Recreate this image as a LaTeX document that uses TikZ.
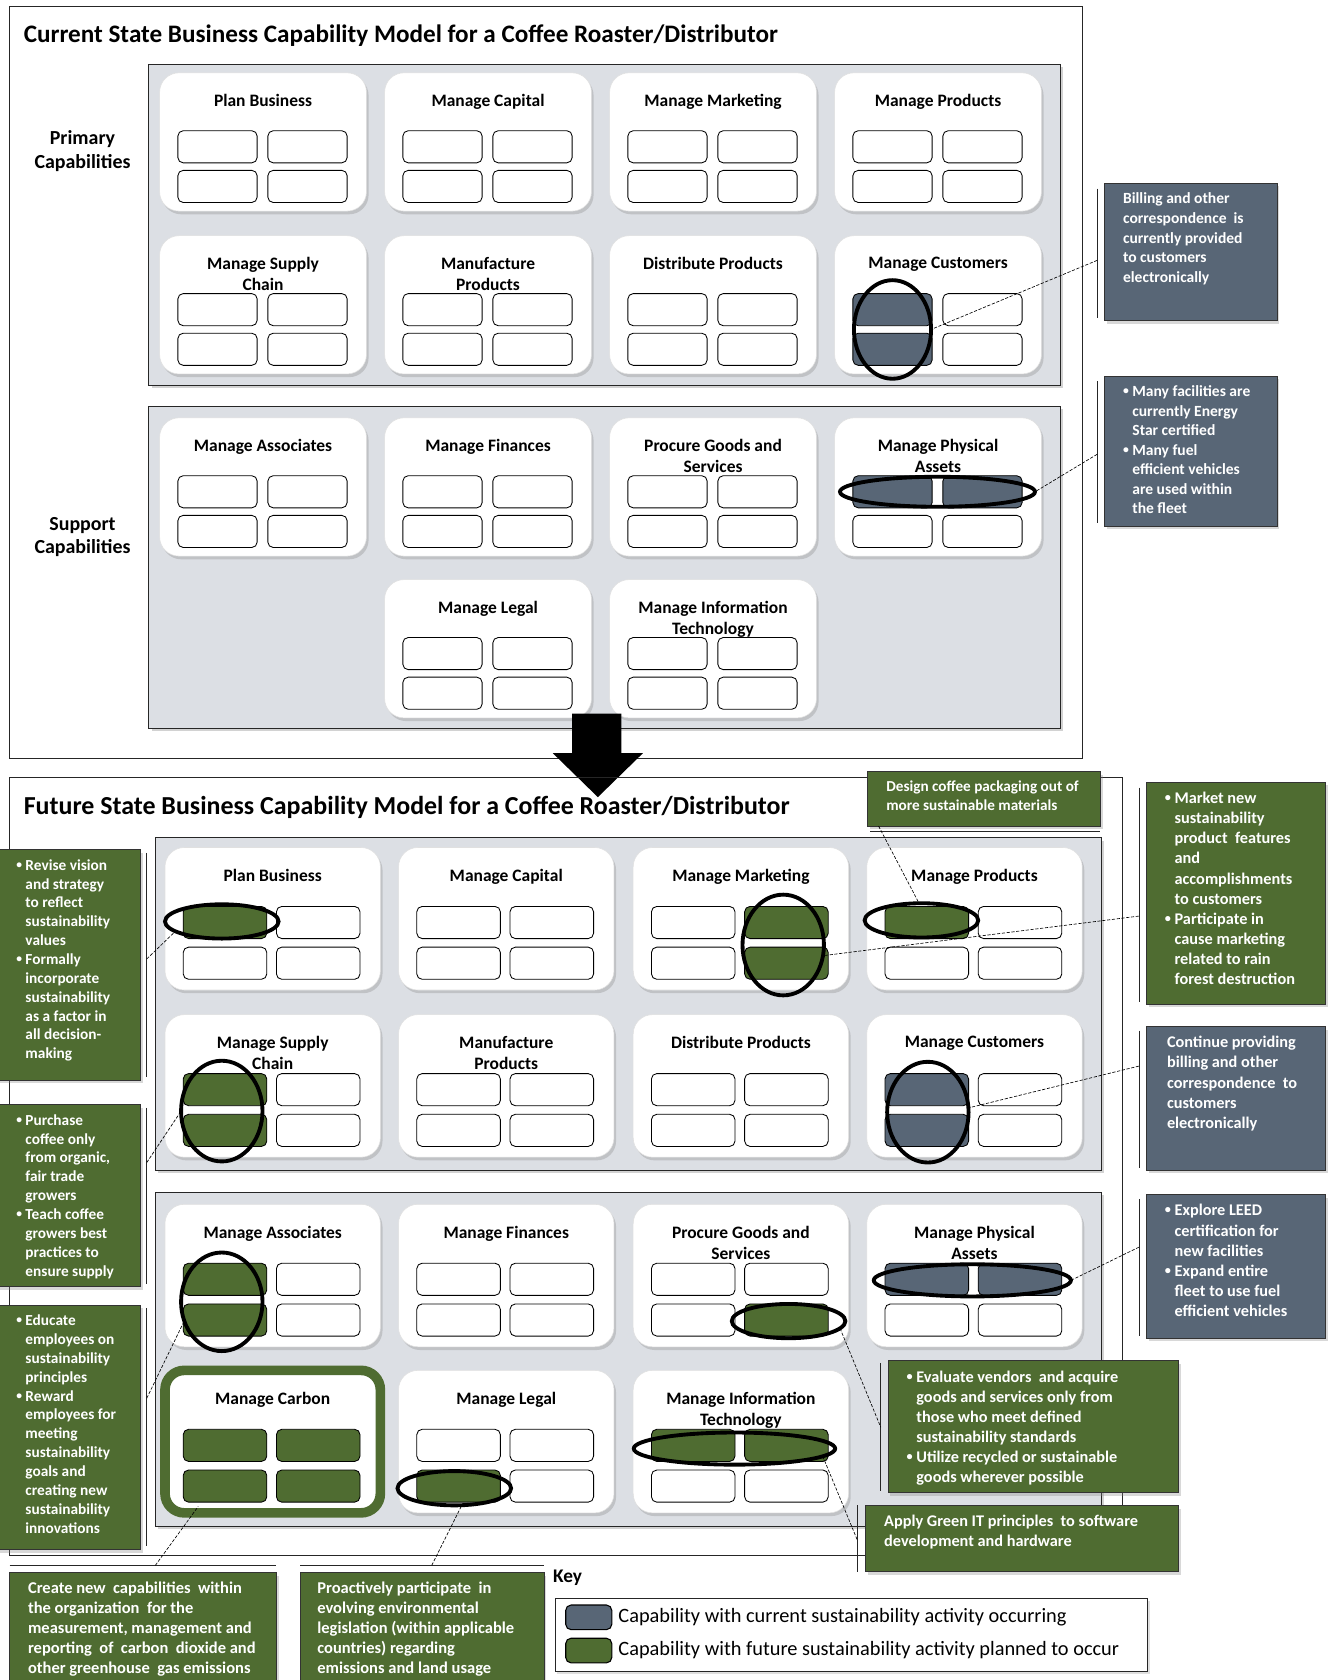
\documentclass[tikz,border=0pt]{standalone}
\usepackage{fontspec}
\setmainfont{Carlito}
\usetikzlibrary{calc,shadows,shapes.geometric}

\definecolor{slate}{RGB}{88,102,118}
\definecolor{leaf}{RGB}{79,108,49}
\definecolor{panelgray}{RGB}{220,223,228}

% bullet line and continuation line inside callouts
\newcommand\bpt[1]{\makebox[0.6em][l]{\raisebox{0.12em}{\scalebox{0.75}{\textbullet}}}#1}
\newcommand\bnx[1]{\hspace*{0.6em}#1}

% capability card: name, x, y, title, styles of the four cells (a b / c d)
\newcommand\capcard[8]{%
  \node[card] (#1) at (#2,#3) {};
  \node[cardtitle] (#1-t) at ($(#1.north)+(0,\tdy)$) {#4};
  \node[cell,#5] (#1-a) at ($(#1.north west)+(\cxa,\cya)$) {};
  \node[cell,#6] (#1-b) at ($(#1.north west)+(\cxb,\cya)$) {};
  \node[cell,#7] (#1-c) at ($(#1.north west)+(\cxa,\cyb)$) {};
  \node[cell,#8] (#1-d) at ($(#1.north west)+(\cxb,\cyb)$) {};
}

\tikzset{
  frame/.style={draw=black!85, line width=0.9, anchor=north west, inner sep=0, outer sep=0},
  panel/.style={draw=black!85, fill=panelgray, line width=0.9, anchor=north west, inner sep=0, outer sep=0,
    drop shadow={shadow xshift=2.5pt, shadow yshift=-2.5pt, opacity=0.35}},
  card/.style={fill=white, draw=black!12, line width=0.5, rounded corners=18, anchor=north west,
    minimum width=\cardw, minimum height=\cardh, inner sep=0, outer sep=0,
    drop shadow={shadow xshift=2pt, shadow yshift=-3pt, opacity=0.3}},
  cardtitle/.style={anchor=north, align=center, inner sep=0, font=\fontsize{16.3}{19.5}\selectfont\bfseries},
  cell/.style={draw=black, line width=0.8, rounded corners=5, anchor=north west,
    minimum width=\cellw, minimum height=30, inner sep=0, outer sep=0},
  fw/.style={fill=white},
  fg/.style={fill=leaf},
  fs/.style={fill=slate},
  ring/.style={ellipse, draw=black, line width=3.6, inner sep=0, outer sep=0},
  maintitle/.style={anchor=west, inner sep=0, font=\fontsize{23.5}{28}\selectfont\bfseries},
  grouplabel/.style={align=center, inner sep=0, font=\fontsize{18.6}{21.5}\selectfont\bfseries},
  cbox/.style={draw=black!80, line width=0.8, inner sep=0, outer sep=0, anchor=north west,
    drop shadow={shadow xshift=2pt, shadow yshift=-3pt, opacity=0.3}},
  gbox/.style={cbox, fill=leaf},
  sbox/.style={cbox, fill=slate},
  ctext/.style={anchor=north west, inner sep=0, align=left, text=white, font=\fontsize{15.2}{18.8}\selectfont\bfseries},
  bracket/.style={line width=0.8, black!85},
  leader/.style={line width=0.6, dash pattern=on 3pt off 1.5pt},
}

\begin{document}
\begin{tikzpicture}[x=1pt,y=-1pt]
\useasboundingbox (0,0) rectangle (1246,1568);
\fill[white] (0,0) rectangle (1246,1568);

% ===================== current state =====================
\def\cardw{193}\def\cardh{129}\def\cellw{74}
\def\cxa{17}\def\cxb{101}\def\cya{54}\def\cyb{91}\def\tdy{20}

\node[frame, minimum width=1001, minimum height=702] (curframe) at (9,6) {};
\node[maintitle] (curtitle) at (22,33) {Current State Business Capability Model for a Coffee Roaster/Distributor};
\node[panel, minimum width=851, minimum height=300] (curprim) at (139,60) {};
\node[panel, minimum width=851, minimum height=301] (cursupp) at (139,379) {};
\node[grouplabel] (curprimlbl) at (77,141) {Primary\\Capabilities};
\node[grouplabel] (cursupplbl) at (77,501) {Support\\Capabilities};

\capcard{c-plan}{149}{68}{Plan Business}{fw}{fw}{fw}{fw}
\capcard{c-cap}{359}{68}{Manage Capital}{fw}{fw}{fw}{fw}
\capcard{c-mkt}{569}{68}{Manage Marketing}{fw}{fw}{fw}{fw}
\capcard{c-prod}{779}{68}{Manage Products}{fw}{fw}{fw}{fw}
\capcard{c-sup}{149}{220}{Manage Supply\\Chain}{fw}{fw}{fw}{fw}
\capcard{c-manu}{359}{220}{Manufacture\\Products}{fw}{fw}{fw}{fw}
\capcard{c-dist}{569}{220}{Distribute Products}{fw}{fw}{fw}{fw}
\capcard{c-cust}{779}{220}{Manage Customers}{fs}{fw}{fs}{fw}
\capcard{c-asoc}{149}{390}{Manage Associates}{fw}{fw}{fw}{fw}
\capcard{c-fin}{359}{390}{Manage Finances}{fw}{fw}{fw}{fw}
\capcard{c-proc}{569}{390}{Procure Goods and\\Services}{fw}{fw}{fw}{fw}
\capcard{c-phys}{779}{390}{Manage Physical\\Assets}{fs}{fs}{fw}{fw}
\capcard{c-legal}{359}{541}{Manage Legal}{fw}{fw}{fw}{fw}
\capcard{c-it}{569}{541}{Manage Information\\Technology}{fw}{fw}{fw}{fw}

\node[ring, minimum width=72, minimum height=92] (ec-cust) at ($(c-cust-a.center)!0.5!(c-cust-c.center)$) {};
\node[ring, minimum width=182, minimum height=28] (ec-phys) at ($(c-phys-a.center)!0.5!(c-phys-b.center)$) {};

% current-state callouts
\node[sbox, minimum width=161, minimum height=128] (cc1) at (1031,171) {};
\node[ctext, font=\fontsize{14.5}{18.3}\selectfont\bfseries] (cc1-t) at ($(cc1.north west)+(17,9)$)
  {Billing and other\\correspondence\ \ is\\currently provided\\to customers\\electronically};
\draw[bracket] ($(cc1.north west)+(-7,5)$) -- ($(cc1.south west)+(-7,-2)$);
\coordinate (cc1-p) at ($(cc1.north west)+(-7,72)$);
\draw[leader] (cc1-p) -- (ec-cust.east);

\node[sbox, minimum width=161, minimum height=140] (cc2) at (1031,351) {};
\node[ctext, font=\fontsize{14.5}{18.2}\selectfont\bfseries] (cc2-t) at ($(cc2.north west)+(17,9)$)
  {\bpt{Many facilities are}\\\bnx{currently Energy}\\\bnx{Star certified}\\\bpt{Many fuel}\\\bnx{efficient vehicles}\\\bnx{are used within}\\\bnx{the fleet}};
\draw[bracket] ($(cc2.north west)+(-7,5)$) -- ($(cc2.south west)+(-7,-3)$);
\coordinate (cc2-p) at ($(cc2.north west)+(-7,73)$);
\draw[leader] (cc2-p) -- (ec-phys.east);

% transition arrow
\fill[black] (534,666) -- (580,666) -- (580,703) -- (600,703) -- (558,744) -- (516,703) -- (534,703) -- cycle;

% ===================== future state =====================
\def\cardw{201}\def\cardh{133}\def\cellw{78}
\def\cxa{17}\def\cxb{104}\def\cya{55}\def\cyb{93}\def\tdy{20}

\node[frame, minimum width=1039, minimum height=726] (futframe) at (9,726) {};
\node[maintitle, font=\fontsize{24.2}{28}\selectfont\bfseries] (futtitle) at (22,754) {Future State Business Capability Model for a Coffee Roaster/Distributor};
\node[panel, minimum width=883, minimum height=310] (futprim) at (145,782) {};
\node[panel, minimum width=883, minimum height=312] (futsupp) at (145,1113) {};

\capcard{f-plan}{154}{791}{Plan Business}{fg}{fw}{fw}{fw}
\capcard{f-cap}{372}{791}{Manage Capital}{fw}{fw}{fw}{fw}
\capcard{f-mkt}{591}{791}{Manage Marketing}{fw}{fg}{fw}{fg}
\capcard{f-prod}{809}{791}{Manage Products}{fg}{fw}{fw}{fw}
\capcard{f-sup}{154}{947}{Manage Supply\\Chain}{fg}{fw}{fg}{fw}
\capcard{f-manu}{372}{947}{Manufacture\\Products}{fw}{fw}{fw}{fw}
\capcard{f-dist}{591}{947}{Distribute Products}{fw}{fw}{fw}{fw}
\capcard{f-cust}{809}{947}{Manage Customers}{fs}{fw}{fs}{fw}
\capcard{f-asoc}{154}{1124}{Manage Associates}{fg}{fw}{fg}{fw}
\capcard{f-fin}{372}{1124}{Manage Finances}{fw}{fw}{fw}{fw}
\capcard{f-proc}{591}{1124}{Procure Goods and\\Services}{fw}{fw}{fw}{fg}
\capcard{f-phys}{809}{1124}{Manage Physical\\Assets}{fs}{fs}{fw}{fw}
\begin{scope}[card/.append style={draw=leaf, line width=9}]
\capcard{f-carb}{154}{1279}{Manage Carbon}{fg}{fg}{fg}{fg}
\end{scope}
\capcard{f-legal}{372}{1279}{Manage Legal}{fw}{fw}{fg}{fw}
\capcard{f-it}{591}{1279}{Manage Information\\Technology}{fg}{fg}{fw}{fw}

\node[ring, minimum width=106, minimum height=32] (ef-plan) at ($(f-plan-a.center)+(-3,-1)$) {};
\node[ring, minimum width=76, minimum height=94] (ef-mkt) at ($(f-mkt-b.center)!0.5!(f-mkt-d.center)+(-3,2)$) {};
\node[ring, minimum width=106, minimum height=32] (ef-prod) at ($(f-prod-a.center)+(-5,-2)$) {};
\node[ring, minimum width=76, minimum height=94] (ef-sup) at ($(f-sup-a.center)!0.5!(f-sup-c.center)+(-3,1)$) {};
\node[ring, minimum width=76, minimum height=94] (ef-cust) at ($(f-cust-a.center)!0.5!(f-cust-c.center)+(1,2)$) {};
\node[ring, minimum width=76, minimum height=92] (ef-asoc) at ($(f-asoc-a.center)!0.5!(f-asoc-c.center)+(-3,2)$) {};
\node[ring, minimum width=106, minimum height=32] (ef-proc) at ($(f-proc-d.center)+(2,1)$) {};
\node[ring, minimum width=184, minimum height=30] (ef-phys) at ($(f-phys-a.center)!0.5!(f-phys-b.center)+(-1,1)$) {};
\node[ring, minimum width=106, minimum height=32] (ef-legal) at ($(f-legal-c.center)+(-4,2)$) {};
\node[ring, minimum width=188, minimum height=30] (ef-it) at ($(f-it-a.center)!0.5!(f-it-b.center)+(-5,3)$) {};

% future-state callouts, top and right
\node[gbox, minimum width=217, minimum height=51] (fdes) at (810,720) {};
\node[ctext, font=\fontsize{14.2}{17}\selectfont\bfseries] (fdes-t) at ($(fdes.north west)+(17,9)$)
  {Design coffee packaging out of\\more sustainable materials};
\draw[bracket] ($(fdes.south west)+(2,5)$) -- ($(fdes.south east)+(0,5)$);
\coordinate (fdes-p) at ($(fdes.south west)+(10,0)$);
\draw[leader] (fdes-p) -- (ef-prod.98);

\node[gbox, minimum width=167, minimum height=207] (fmkt) at (1070,730) {};
\node[ctext] (fmkt-t) at ($(fmkt.north west)+(17,9)$)
  {\bpt{Market new}\\\bnx{sustainability}\\\bnx{product\ \ features}\\\bnx{and}\\\bnx{accomplishments}\\\bnx{to customers}\\\bpt{Participate in}\\\bnx{cause marketing}\\\bnx{related to rain}\\\bnx{forest destruction}};
\draw[bracket] ($(fmkt.north west)+(-7,5)$) -- ($(fmkt.south west)+(-7,-2)$);
\coordinate (fmkt-p) at ($(fmkt.north west)+(-7,125)$);
\draw[leader] (fmkt-p) -- (ef-mkt.-15);

\node[sbox, minimum width=167, minimum height=134] (fcust) at (1070,958) {};
\node[ctext] (fcust-t) at ($(fcust.north west)+(19,9)$)
  {Continue providing\\billing and other\\correspondence\ \ to\\customers\\electronically};
\draw[bracket] ($(fcust.north west)+(-7,4)$) -- ($(fcust.south west)+(-7,-2)$);
\coordinate (fcust-p) at ($(fcust.north west)+(-7,37)$);
\draw[leader] (fcust-p) -- (ef-cust.6);

\node[sbox, minimum width=167, minimum height=134] (fphys) at (1070,1115) {};
\node[ctext] (fphys-t) at ($(fphys.north west)+(17,9)$)
  {\bpt{Explore LEED}\\\bnx{certification for}\\\bnx{new facilities}\\\bpt{Expand entire}\\\bnx{fleet to use fuel}\\\bnx{efficient vehicles}};
\draw[bracket] ($(fphys.north west)+(-7,4)$) -- ($(fphys.south west)+(-7,-2)$);
\coordinate (fphys-p) at ($(fphys.north west)+(-7,49)$);
\draw[leader] (fphys-p) -- (ef-phys.east);

\node[gbox, minimum width=271, minimum height=123] (fproc) at (829,1270) {};
\node[ctext] (fproc-t) at ($(fproc.north west)+(17,9)$)
  {\bpt{Evaluate vendors\ \ and acquire}\\\bnx{goods and services only from}\\\bnx{those who meet defined}\\\bnx{sustainability standards}\\\bpt{Utilize recycled or sustainable}\\\bnx{goods wherever possible}};
\draw[bracket] ($(fproc.north west)+(-7,2)$) -- ($(fproc.south west)+(-7,-1)$);
\coordinate (fproc-p) at ($(fproc.north west)+(-7,62)$);
\draw[leader] (ef-proc.-8) -- (fproc-p);

\node[gbox, minimum width=292, minimum height=62] (fit) at (808,1405) {};
\node[ctext] (fit-t) at ($(fit.north west)+(17,9)$)
  {Apply Green IT principles\ \ to software\\development and hardware};
\draw[bracket] ($(fit.north west)+(-8,0)$) -- ($(fit.south west)+(-8,0)$);
\coordinate (fit-p) at ($(fit.north west)+(-8,32)$);
\draw[leader] (ef-it.-5) -- (fit-p);

% future-state callouts, left
\begin{scope}[ctext/.append style={font=\fontsize{14.3}{17.6}\selectfont\bfseries}]
\node[gbox, minimum width=136, minimum height=215] (fplan) at (-5,793) {};
\node[ctext] (fplan-t) at ($(fplan.north west)+(20,9)$)
  {\bpt{Revise vision}\\\bnx{and strategy}\\\bnx{to reflect}\\\bnx{sustainability}\\\bnx{values}\\\bpt{Formally}\\\bnx{incorporate}\\\bnx{sustainability}\\\bnx{as a factor in}\\\bnx{all decision-}\\\bnx{making}};
\draw[bracket] ($(fplan.north east)+(6,3)$) -- ($(fplan.south east)+(6,-3)$);
\coordinate (fplan-p) at ($(fplan.north east)+(6,102)$);
\draw[leader] (fplan-p) -- (ef-plan.192);

\node[gbox, minimum width=136, minimum height=170] (fsup) at (-5,1031) {};
\node[ctext] (fsup-t) at ($(fsup.north west)+(20,9)$)
  {\bpt{Purchase}\\\bnx{coffee only}\\\bnx{from organic,}\\\bnx{fair trade}\\\bnx{growers}\\\bpt{Teach coffee}\\\bnx{growers best}\\\bnx{practices to}\\\bnx{ensure supply}};
\draw[bracket] ($(fsup.north east)+(6,3)$) -- ($(fsup.south east)+(6,-3)$);
\coordinate (fsup-p) at ($(fsup.north east)+(6,54)$);
\draw[leader] (fsup-p) -- (ef-sup.west);

\node[gbox, minimum width=136, minimum height=228] (fasoc) at (-5,1218) {};
\node[ctext] (fasoc-t) at ($(fasoc.north west)+(20,9)$)
  {\bpt{Educate}\\\bnx{employees on}\\\bnx{sustainability}\\\bnx{principles}\\\bpt{Reward}\\\bnx{employees for}\\\bnx{meeting}\\\bnx{sustainability}\\\bnx{goals and}\\\bnx{creating new}\\\bnx{sustainability}\\\bnx{innovations}};
\draw[bracket] ($(fasoc.north east)+(6,3)$) -- ($(fasoc.south east)+(6,-3)$);
\coordinate (fasoc-p) at ($(fasoc.north east)+(6,87)$);
\draw[leader] (fasoc-p) -- (ef-asoc.207);
\end{scope}

% future-state callouts, bottom
\begin{scope}[ctext/.append style={font=\fontsize{15.4}{18.7}\selectfont\bfseries}]
\node[gbox, minimum width=249, minimum height=120] (fcarb) at (9,1468) {};
\node[ctext] (fcarb-t) at ($(fcarb.north west)+(17,8)$)
  {Create new\ \ capabilities\ \ within\\the organization\ \ for the\\measurement, management and\\reporting\ \ of\ \ carbon\ \ dioxide and\\other greenhouse\ \ gas emissions};
\draw[bracket] ($(fcarb.north west)+(0,-7)$) -- ($(fcarb.north east)+(0,-7)$);
\coordinate (fcarb-p) at ($(fcarb.north west)+(136,-7)$);
\draw[leader] (fcarb-p) -- ($(f-carb-c.south west)+(14,4)$);

\node[gbox, minimum width=228, minimum height=120] (flegal) at (280,1468) {};
\node[ctext] (flegal-t) at ($(flegal.north west)+(16,8)$)
  {Proactively participate\ \ in\\evolving environmental\\legislation (within applicable\\countries) regarding\\emissions and land usage};
\draw[bracket] ($(flegal.north west)+(0,-7)$) -- ($(flegal.north east)+(0,-7)$);
\coordinate (flegal-p) at ($(flegal.north west)+(123,-7)$);
\draw[leader] (flegal-p) -- (ef-legal.-66);
\end{scope}

% key
\node[anchor=west, inner sep=0, font=\fontsize{18}{20}\selectfont\bfseries] (keytitle) at (516,1473) {Key};
\node[frame, minimum width=553, minimum height=68, fill=white,
  drop shadow={shadow xshift=2pt, shadow yshift=-2pt, opacity=0.25}] (keybox) at (518,1492) {};
\node[cell, fs, minimum width=43, minimum height=23, line width=1] (kcur) at (528,1498) {};
\node[cell, fg, minimum width=43, minimum height=23, line width=1] (kfut) at (528,1529) {};
\node[anchor=west, inner sep=0, font=\fontsize{19}{22}\selectfont] (kcur-t) at ($(kcur.east)+(6,0)$)
  {Capability with current sustainability activity occurring};
\node[anchor=west, inner sep=0, font=\fontsize{19}{22}\selectfont] (kfut-t) at ($(kfut.east)+(6,0)$)
  {Capability with future sustainability activity planned to occur};
\end{tikzpicture}
\end{document}
